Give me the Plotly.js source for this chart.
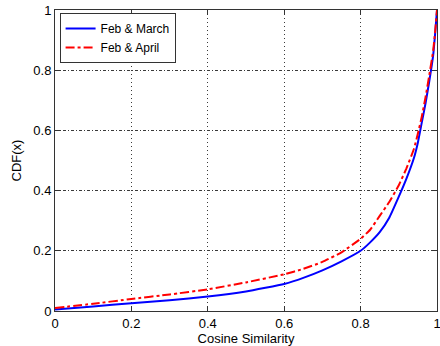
<!DOCTYPE html>
<html><head><meta charset="utf-8">
<script src="https://cdn.plot.ly/plotly-3.0.1.min.js"></script>
<style>html,body{margin:0;padding:0;background:#fff}#chart{width:440px;height:346px}</style>
</head><body><div id="chart"></div>
<script>
const xVals = [0, 0.1, 0.2, 0.3, 0.4, 0.5, 0.6, 0.65, 0.7, 0.75, 0.8, 0.825, 0.85, 0.875, 0.9, 0.92, 0.94, 0.95, 0.96, 0.97, 0.98, 0.99, 0.995, 1.0];
const febMarch = [0.005, 0.015, 0.026, 0.036, 0.048, 0.065, 0.09, 0.11, 0.135, 0.165, 0.200, 0.228, 0.262, 0.31, 0.38, 0.44, 0.51, 0.56, 0.625, 0.69, 0.765, 0.85, 0.92, 1.0];
const febApril = [0.01, 0.024, 0.04, 0.055, 0.072, 0.095, 0.122, 0.14, 0.163, 0.195, 0.240, 0.27, 0.316, 0.362, 0.418, 0.474, 0.54, 0.59, 0.645, 0.71, 0.785, 0.865, 0.925, 1.0];
const seriesNames = ['Feb & March', 'Feb & April'];
const tickVals = [0, 0.2, 0.4, 0.6, 0.8, 1];
const tickText = ['0', '0.2', '0.4', '0.6', '0.8', '1'];

const font = {family: '"Liberation Sans", Arial, sans-serif', size: 13, color: '#000'};
const axisCommon = {
  range: [0, 1], tickvals: tickVals, ticktext: tickText,
  showgrid: true, gridcolor: '#3a3a3a', gridwidth: 1,
  ticks: 'inside', ticklen: 5, tickcolor: '#333',
  showline: true, linecolor: '#333', linewidth: 1, mirror: 'allticks',
  zeroline: false, tickfont: font, ticklabeloverflow: 'allow'
};
const traces = [
  {x: xVals, y: febMarch, name: seriesNames[0], mode: 'lines', line: {color: '#0000ff', width: 2, shape: 'spline', smoothing: 0.4}},
  {x: xVals, y: febApril, name: seriesNames[1], mode: 'lines', line: {color: '#ff0000', width: 2, dash: 'dashdot', shape: 'spline', smoothing: 0.4}}
];
const layout = {
  width: 440, height: 346,
  margin: {l: 55, r: 3, t: 10, b: 35},
  paper_bgcolor: '#fff', plot_bgcolor: '#fff',
  font: font, showlegend: true,
  legend: {x: 0.012, y: 0.99, xanchor: 'left', yanchor: 'top', bordercolor: '#333', borderwidth: 1, bgcolor: '#fff',
           font: {family: font.family, size: 12, color: '#000'}, tracegroupgap: 0, itemwidth: 30},
  xaxis: Object.assign({}, axisCommon, {griddash: '1px,3px', title: {text: 'Cosine Similarity', font: font, standoff: 2}}),
  yaxis: Object.assign({}, axisCommon, {griddash: '3px,2px,1px,2px', title: {text: 'CDF(x)', font: font, standoff: 8}})
};
Plotly.newPlot('chart', traces, layout, {displayModeBar: false, staticPlot: true});
</script></body></html>
